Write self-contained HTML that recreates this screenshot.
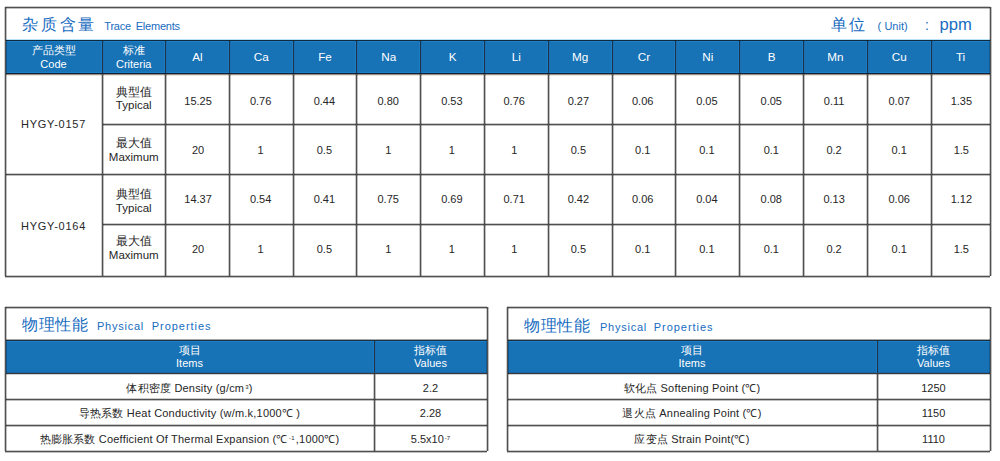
<!DOCTYPE html>
<html><head><meta charset="utf-8"><style>
html,body{margin:0;padding:0;background:#fff;}
body{width:1000px;height:461px;position:relative;overflow:hidden;font-family:"Liberation Sans",sans-serif;color:#262626;font-size:11px;}
.c{position:absolute;display:flex;align-items:center;justify-content:center;text-align:center;line-height:13.5px;white-space:nowrap;}
.t{position:absolute;white-space:nowrap;line-height:1.2;}
sup{font-size:6px;vertical-align:top;line-height:8px;position:relative;top:-2px;margin-left:1px;}
</style></head><body>
<div style="position:absolute;left:5px;top:40px;width:985px;height:33.5px;background:#1772b6"></div><div style="position:absolute;left:5px;top:39px;width:985px;height:1px;background:#b8e2fa"></div><div style="position:absolute;left:5px;top:40px;width:985px;height:1px;background:#12283b"></div><div style="position:absolute;left:5px;top:41px;width:985px;height:1px;background:#1a80cc"></div><div class="t" style="left:22px;top:15px;font-size:16px;letter-spacing:2.8px;color:#176cbf">杂质含量</div><div class="t" style="left:104.3px;top:20px;font-size:11px;letter-spacing:-0.2px;word-spacing:1.8px;color:#176cbf">Trace Elements</div><div class="t" style="left:831px;top:15px;font-size:16px;letter-spacing:2px;color:#176cbf">单位</div><div class="t" style="left:877.4px;top:19.6px;font-size:11px;color:#176cbf">(&nbsp;<span style="margin-left:0.3px">Unit)</span></div><div class="t" style="left:925px;top:16.8px;font-size:14px;color:#176cbf">:</div><div class="t" style="left:939.5px;top:14.6px;font-size:16.6px;color:#176cbf">ppm</div><div class="c" style="left:5px;top:40.9px;width:97px;height:33.5px;color:#fff">产品类型<br>Code</div><div class="c" style="left:102px;top:40.9px;width:63.5px;height:33.5px;color:#fff">标准<br>Criteria</div><div class="c" style="left:165.5px;top:39.8px;width:63.80000000000001px;height:33.5px;color:#fff;font-size:11.7px">Al</div><div class="c" style="left:229.3px;top:39.8px;width:63.80000000000001px;height:33.5px;color:#fff;font-size:11.7px">Ca</div><div class="c" style="left:293.1px;top:39.8px;width:63.799999999999955px;height:33.5px;color:#fff;font-size:11.7px">Fe</div><div class="c" style="left:356.9px;top:39.8px;width:63.80000000000001px;height:33.5px;color:#fff;font-size:11.7px">Na</div><div class="c" style="left:420.7px;top:39.8px;width:63.80000000000001px;height:33.5px;color:#fff;font-size:11.7px">K</div><div class="c" style="left:484.5px;top:39.8px;width:63.799999999999955px;height:33.5px;color:#fff;font-size:11.7px">Li</div><div class="c" style="left:548.3px;top:39.8px;width:63.799999999999955px;height:33.5px;color:#fff;font-size:11.7px">Mg</div><div class="c" style="left:612.0999999999999px;top:39.8px;width:63.80000000000007px;height:33.5px;color:#fff;font-size:11.7px">Cr</div><div class="c" style="left:675.9px;top:39.8px;width:63.799999999999955px;height:33.5px;color:#fff;font-size:11.7px">Ni</div><div class="c" style="left:739.6999999999999px;top:39.8px;width:63.80000000000007px;height:33.5px;color:#fff;font-size:11.7px">B</div><div class="c" style="left:803.5px;top:39.8px;width:63.799999999999955px;height:33.5px;color:#fff;font-size:11.7px">Mn</div><div class="c" style="left:867.3px;top:39.8px;width:63.799999999999955px;height:33.5px;color:#fff;font-size:11.7px">Cu</div><div class="c" style="left:931.0999999999999px;top:39.8px;width:58.90000000000009px;height:33.5px;color:#fff;font-size:11.7px">Ti</div><div class="c" style="left:5px;top:74.7px;width:97px;height:101.0px;letter-spacing:0.75px">HYGY-0157</div><div class="c" style="left:5px;top:175.7px;width:97px;height:101.5px;letter-spacing:0.75px">HYGY-0164</div><div class="c" style="left:102px;top:74.0px;width:63.5px;height:50.5px;font-size:11.5px;line-height:13.5px">典型值<br>Typical</div><div class="c" style="left:166.2px;top:76.5px;width:63.80000000000001px;height:50.5px;">15.25</div><div class="c" style="left:228.70000000000002px;top:76.5px;width:63.79999999999998px;height:50.5px;">0.76</div><div class="c" style="left:292.5px;top:76.5px;width:63.799999999999955px;height:50.5px;">0.44</div><div class="c" style="left:356.29999999999995px;top:76.5px;width:63.80000000000001px;height:50.5px;">0.80</div><div class="c" style="left:420.0px;top:76.5px;width:63.80000000000001px;height:50.5px;">0.53</div><div class="c" style="left:482.3px;top:76.5px;width:63.7999999999999px;height:50.5px;">0.76</div><div class="c" style="left:546.5px;top:76.5px;width:63.799999999999955px;height:50.5px;">0.27</div><div class="c" style="left:610.8px;top:76.5px;width:63.80000000000007px;height:50.5px;">0.06</div><div class="c" style="left:675.0px;top:76.5px;width:63.799999999999955px;height:50.5px;">0.05</div><div class="c" style="left:739.4px;top:76.5px;width:63.80000000000007px;height:50.5px;">0.05</div><div class="c" style="left:802.2px;top:76.5px;width:63.799999999999955px;height:50.5px;">0.11</div><div class="c" style="left:867.3px;top:76.5px;width:63.799999999999955px;height:50.5px;">0.07</div><div class="c" style="left:931.8999999999999px;top:76.5px;width:58.90000000000009px;height:50.5px;">1.35</div><div class="c" style="left:102px;top:125.6px;width:63.5px;height:50.5px;font-size:11.5px;line-height:13.5px">最大值<br>Maximum</div><div class="c" style="left:166.2px;top:125.25px;width:63.80000000000001px;height:50.5px;">20</div><div class="c" style="left:228.70000000000002px;top:125.25px;width:63.79999999999998px;height:50.5px;">1</div><div class="c" style="left:292.5px;top:125.25px;width:63.799999999999955px;height:50.5px;">0.5</div><div class="c" style="left:356.29999999999995px;top:125.25px;width:63.80000000000001px;height:50.5px;">1</div><div class="c" style="left:420.0px;top:125.25px;width:63.80000000000001px;height:50.5px;">1</div><div class="c" style="left:482.3px;top:125.25px;width:63.7999999999999px;height:50.5px;">1</div><div class="c" style="left:546.5px;top:125.25px;width:63.799999999999955px;height:50.5px;">0.5</div><div class="c" style="left:610.8px;top:125.25px;width:63.80000000000007px;height:50.5px;">0.1</div><div class="c" style="left:675.0px;top:125.25px;width:63.799999999999955px;height:50.5px;">0.1</div><div class="c" style="left:739.4px;top:125.25px;width:63.80000000000007px;height:50.5px;">0.1</div><div class="c" style="left:802.2px;top:125.25px;width:63.799999999999955px;height:50.5px;">0.2</div><div class="c" style="left:867.3px;top:125.25px;width:63.799999999999955px;height:50.5px;">0.1</div><div class="c" style="left:931.8999999999999px;top:125.25px;width:58.90000000000009px;height:50.5px;">1.5</div><div class="c" style="left:102px;top:176.7px;width:63.5px;height:50.0px;font-size:11.5px;line-height:13.5px">典型值<br>Typical</div><div class="c" style="left:166.2px;top:174.5px;width:63.80000000000001px;height:50.0px;">14.37</div><div class="c" style="left:228.70000000000002px;top:174.5px;width:63.79999999999998px;height:50.0px;">0.54</div><div class="c" style="left:292.5px;top:174.5px;width:63.799999999999955px;height:50.0px;">0.41</div><div class="c" style="left:356.29999999999995px;top:174.5px;width:63.80000000000001px;height:50.0px;">0.75</div><div class="c" style="left:420.0px;top:174.5px;width:63.80000000000001px;height:50.0px;">0.69</div><div class="c" style="left:482.3px;top:174.5px;width:63.7999999999999px;height:50.0px;">0.71</div><div class="c" style="left:546.5px;top:174.5px;width:63.799999999999955px;height:50.0px;">0.42</div><div class="c" style="left:610.8px;top:174.5px;width:63.80000000000007px;height:50.0px;">0.06</div><div class="c" style="left:675.0px;top:174.5px;width:63.799999999999955px;height:50.0px;">0.04</div><div class="c" style="left:739.4px;top:174.5px;width:63.80000000000007px;height:50.0px;">0.08</div><div class="c" style="left:802.2px;top:174.5px;width:63.799999999999955px;height:50.0px;">0.13</div><div class="c" style="left:867.3px;top:174.5px;width:63.799999999999955px;height:50.0px;">0.06</div><div class="c" style="left:931.8999999999999px;top:174.5px;width:58.90000000000009px;height:50.0px;">1.12</div><div class="c" style="left:102px;top:223.1px;width:63.5px;height:51.5px;font-size:11.5px;line-height:13.5px">最大值<br>Maximum</div><div class="c" style="left:166.2px;top:223.5px;width:63.80000000000001px;height:51.5px;">20</div><div class="c" style="left:228.70000000000002px;top:223.5px;width:63.79999999999998px;height:51.5px;">1</div><div class="c" style="left:292.5px;top:223.5px;width:63.799999999999955px;height:51.5px;">0.5</div><div class="c" style="left:356.29999999999995px;top:223.5px;width:63.80000000000001px;height:51.5px;">1</div><div class="c" style="left:420.0px;top:223.5px;width:63.80000000000001px;height:51.5px;">1</div><div class="c" style="left:482.3px;top:223.5px;width:63.7999999999999px;height:51.5px;">1</div><div class="c" style="left:546.5px;top:223.5px;width:63.799999999999955px;height:51.5px;">0.5</div><div class="c" style="left:610.8px;top:223.5px;width:63.80000000000007px;height:51.5px;">0.1</div><div class="c" style="left:675.0px;top:223.5px;width:63.799999999999955px;height:51.5px;">0.1</div><div class="c" style="left:739.4px;top:223.5px;width:63.80000000000007px;height:51.5px;">0.1</div><div class="c" style="left:802.2px;top:223.5px;width:63.799999999999955px;height:51.5px;">0.2</div><div class="c" style="left:867.3px;top:223.5px;width:63.799999999999955px;height:51.5px;">0.1</div><div class="c" style="left:931.8999999999999px;top:223.5px;width:58.90000000000009px;height:51.5px;">1.5</div><div style="position:absolute;left:5px;top:7px;width:985px;height:1px;background:#505050;box-shadow:0 -1px 0 rgba(0,0,0,.2),0 1px 0 rgba(0,0,0,.25)"></div><div style="position:absolute;left:5px;top:72px;width:985px;height:1px;background:#1a7fca"></div><div style="position:absolute;left:5px;top:73px;width:985px;height:1px;background:#0e2233"></div><div style="position:absolute;left:5px;top:74px;width:985px;height:1px;background:#9a8e84"></div><div style="position:absolute;left:5px;top:75px;width:985px;height:1px;background:#ece4de"></div><div style="position:absolute;left:102px;top:124px;width:888px;height:1px;background:#505050;box-shadow:0 -1px 0 rgba(0,0,0,.2),0 1px 0 rgba(0,0,0,.25)"></div><div style="position:absolute;left:5px;top:174px;width:985px;height:1px;background:#505050;box-shadow:0 -1px 0 rgba(0,0,0,.2),0 1px 0 rgba(0,0,0,.25)"></div><div style="position:absolute;left:102px;top:224px;width:888px;height:1px;background:#505050;box-shadow:0 -1px 0 rgba(0,0,0,.2),0 1px 0 rgba(0,0,0,.25)"></div><div style="position:absolute;left:5px;top:276px;width:985px;height:1px;background:#505050;box-shadow:0 -1px 0 rgba(0,0,0,.2),0 1px 0 rgba(0,0,0,.25)"></div><div style="position:absolute;left:5px;top:7px;width:1px;height:269px;background:#505050;box-shadow:-1px 0 0 rgba(0,0,0,.2),1px 0 0 rgba(0,0,0,.25)"></div><div style="position:absolute;left:990px;top:7px;width:1px;height:269px;background:#505050;box-shadow:-1px 0 0 rgba(0,0,0,.2),1px 0 0 rgba(0,0,0,.25)"></div><div style="position:absolute;left:102px;top:41px;width:1px;height:32px;background:#1f3346;box-shadow:-1px 0 0 #1b7cc6,1px 0 0 #1a6db0"></div><div style="position:absolute;left:102px;top:73.5px;width:1px;height:202.5px;background:#505050;box-shadow:-1px 0 0 rgba(0,0,0,.2),1px 0 0 rgba(0,0,0,.25)"></div><div style="position:absolute;left:165px;top:41px;width:1px;height:32px;background:#1f3346;box-shadow:-1px 0 0 #1b7cc6,1px 0 0 #1a6db0"></div><div style="position:absolute;left:165px;top:73.5px;width:1px;height:202.5px;background:#505050;box-shadow:-1px 0 0 rgba(0,0,0,.2),1px 0 0 rgba(0,0,0,.25)"></div><div style="position:absolute;left:229px;top:41px;width:1px;height:32px;background:#1f3346;box-shadow:-1px 0 0 #1b7cc6,1px 0 0 #1a6db0"></div><div style="position:absolute;left:229px;top:73.5px;width:1px;height:202.5px;background:#505050;box-shadow:-1px 0 0 rgba(0,0,0,.2),1px 0 0 rgba(0,0,0,.25)"></div><div style="position:absolute;left:293px;top:41px;width:1px;height:32px;background:#1f3346;box-shadow:-1px 0 0 #1b7cc6,1px 0 0 #1a6db0"></div><div style="position:absolute;left:293px;top:73.5px;width:1px;height:202.5px;background:#505050;box-shadow:-1px 0 0 rgba(0,0,0,.2),1px 0 0 rgba(0,0,0,.25)"></div><div style="position:absolute;left:356px;top:41px;width:1px;height:32px;background:#1f3346;box-shadow:-1px 0 0 #1b7cc6,1px 0 0 #1a6db0"></div><div style="position:absolute;left:356px;top:73.5px;width:1px;height:202.5px;background:#505050;box-shadow:-1px 0 0 rgba(0,0,0,.2),1px 0 0 rgba(0,0,0,.25)"></div><div style="position:absolute;left:420px;top:41px;width:1px;height:32px;background:#1f3346;box-shadow:-1px 0 0 #1b7cc6,1px 0 0 #1a6db0"></div><div style="position:absolute;left:420px;top:73.5px;width:1px;height:202.5px;background:#505050;box-shadow:-1px 0 0 rgba(0,0,0,.2),1px 0 0 rgba(0,0,0,.25)"></div><div style="position:absolute;left:484px;top:41px;width:1px;height:32px;background:#1f3346;box-shadow:-1px 0 0 #1b7cc6,1px 0 0 #1a6db0"></div><div style="position:absolute;left:484px;top:73.5px;width:1px;height:202.5px;background:#505050;box-shadow:-1px 0 0 rgba(0,0,0,.2),1px 0 0 rgba(0,0,0,.25)"></div><div style="position:absolute;left:548px;top:41px;width:1px;height:32px;background:#1f3346;box-shadow:-1px 0 0 #1b7cc6,1px 0 0 #1a6db0"></div><div style="position:absolute;left:548px;top:73.5px;width:1px;height:202.5px;background:#505050;box-shadow:-1px 0 0 rgba(0,0,0,.2),1px 0 0 rgba(0,0,0,.25)"></div><div style="position:absolute;left:612px;top:41px;width:1px;height:32px;background:#1f3346;box-shadow:-1px 0 0 #1b7cc6,1px 0 0 #1a6db0"></div><div style="position:absolute;left:612px;top:73.5px;width:1px;height:202.5px;background:#505050;box-shadow:-1px 0 0 rgba(0,0,0,.2),1px 0 0 rgba(0,0,0,.25)"></div><div style="position:absolute;left:675px;top:41px;width:1px;height:32px;background:#1f3346;box-shadow:-1px 0 0 #1b7cc6,1px 0 0 #1a6db0"></div><div style="position:absolute;left:675px;top:73.5px;width:1px;height:202.5px;background:#505050;box-shadow:-1px 0 0 rgba(0,0,0,.2),1px 0 0 rgba(0,0,0,.25)"></div><div style="position:absolute;left:739px;top:41px;width:1px;height:32px;background:#1f3346;box-shadow:-1px 0 0 #1b7cc6,1px 0 0 #1a6db0"></div><div style="position:absolute;left:739px;top:73.5px;width:1px;height:202.5px;background:#505050;box-shadow:-1px 0 0 rgba(0,0,0,.2),1px 0 0 rgba(0,0,0,.25)"></div><div style="position:absolute;left:803px;top:41px;width:1px;height:32px;background:#1f3346;box-shadow:-1px 0 0 #1b7cc6,1px 0 0 #1a6db0"></div><div style="position:absolute;left:803px;top:73.5px;width:1px;height:202.5px;background:#505050;box-shadow:-1px 0 0 rgba(0,0,0,.2),1px 0 0 rgba(0,0,0,.25)"></div><div style="position:absolute;left:867px;top:41px;width:1px;height:32px;background:#1f3346;box-shadow:-1px 0 0 #1b7cc6,1px 0 0 #1a6db0"></div><div style="position:absolute;left:867px;top:73.5px;width:1px;height:202.5px;background:#505050;box-shadow:-1px 0 0 rgba(0,0,0,.2),1px 0 0 rgba(0,0,0,.25)"></div><div style="position:absolute;left:931px;top:41px;width:1px;height:32px;background:#1f3346;box-shadow:-1px 0 0 #1b7cc6,1px 0 0 #1a6db0"></div><div style="position:absolute;left:931px;top:73.5px;width:1px;height:202.5px;background:#505050;box-shadow:-1px 0 0 rgba(0,0,0,.2),1px 0 0 rgba(0,0,0,.25)"></div><div style="position:absolute;left:5px;top:340.5px;width:482px;height:33.0px;background:#1772b6"></div><div style="position:absolute;left:5px;top:339px;width:482px;height:1px;background:#a8a8a8"></div><div style="position:absolute;left:5px;top:340px;width:482px;height:1px;background:#1c2f40"></div><div style="position:absolute;left:5px;top:341px;width:482px;height:1px;background:#1a80cc"></div><div style="position:absolute;left:5px;top:372px;width:482px;height:1px;background:#1565a8"></div><div style="position:absolute;left:5px;top:373px;width:482px;height:1px;background:#3a3a3a"></div><div style="position:absolute;left:5px;top:374px;width:482px;height:1px;background:#d0d0d0"></div><div class="t" style="left:22px;top:315px;font-size:16px;letter-spacing:0.6px;color:#176cbf">物理性能</div><div class="t" style="left:97px;top:320.2px;font-size:11px;letter-spacing:0.75px;color:#176cbf">Physical</div><div class="t" style="left:151.8px;top:320.2px;font-size:11px;letter-spacing:0.95px;color:#176cbf">Properties</div><div class="c" style="left:5px;top:340.5px;width:369px;height:33.0px;color:#fff">项目<br>Items</div><div class="c" style="left:374px;top:340.5px;width:113px;height:33.0px;color:#fff">指标值<br>Values</div><div class="c" style="left:5px;top:375.9px;width:369px;height:25.5px;letter-spacing:0.2px">体积密度 Density (g/cm<sup>3</sup>)</div><div class="c" style="left:374px;top:376.1px;width:113px;height:25.5px;">2.2</div><div class="c" style="left:5px;top:401.0px;width:369px;height:26px;letter-spacing:0.2px">导热系数 Heat Conductivity (w/m.k,1000℃ )</div><div class="c" style="left:374px;top:401.2px;width:113px;height:26px;">2.28</div><div class="c" style="left:5px;top:426.5px;width:369px;height:26px;letter-spacing:0.2px">热膨胀系数 Coefficient Of Thermal Expansion (℃<sup style="margin:0 1px 0 1.5px">-1</sup>,1000℃)</div><div class="c" style="left:374px;top:426.6px;width:113px;height:26px;">5.5x10<sup>-7</sup></div><div style="position:absolute;left:5px;top:307px;width:482px;height:1px;background:#505050;box-shadow:0 -1px 0 rgba(0,0,0,.2),0 1px 0 rgba(0,0,0,.25)"></div><div style="position:absolute;left:5px;top:399px;width:482px;height:1px;background:#505050;box-shadow:0 -1px 0 rgba(0,0,0,.2),0 1px 0 rgba(0,0,0,.25)"></div><div style="position:absolute;left:5px;top:425px;width:482px;height:1px;background:#505050;box-shadow:0 -1px 0 rgba(0,0,0,.2),0 1px 0 rgba(0,0,0,.25)"></div><div style="position:absolute;left:5px;top:451px;width:482px;height:1px;background:#505050;box-shadow:0 -1px 0 rgba(0,0,0,.2),0 1px 0 rgba(0,0,0,.25)"></div><div style="position:absolute;left:5px;top:307px;width:1px;height:144px;background:#505050;box-shadow:-1px 0 0 rgba(0,0,0,.2),1px 0 0 rgba(0,0,0,.25)"></div><div style="position:absolute;left:487px;top:307px;width:1px;height:144px;background:#505050;box-shadow:-1px 0 0 rgba(0,0,0,.2),1px 0 0 rgba(0,0,0,.25)"></div><div style="position:absolute;left:374px;top:341px;width:1px;height:32px;background:#1f3346;box-shadow:-1px 0 0 #1b7cc6,1px 0 0 #1a6db0"></div><div style="position:absolute;left:374px;top:373.5px;width:1px;height:77.5px;background:#505050;box-shadow:-1px 0 0 rgba(0,0,0,.2),1px 0 0 rgba(0,0,0,.25)"></div><div style="position:absolute;left:507px;top:340.5px;width:483px;height:33.0px;background:#1772b6"></div><div style="position:absolute;left:507px;top:339px;width:483px;height:1px;background:#a8a8a8"></div><div style="position:absolute;left:507px;top:340px;width:483px;height:1px;background:#1c2f40"></div><div style="position:absolute;left:507px;top:341px;width:483px;height:1px;background:#1a80cc"></div><div style="position:absolute;left:507px;top:372px;width:483px;height:1px;background:#1565a8"></div><div style="position:absolute;left:507px;top:373px;width:483px;height:1px;background:#3a3a3a"></div><div style="position:absolute;left:507px;top:374px;width:483px;height:1px;background:#d0d0d0"></div><div class="t" style="left:524px;top:316px;font-size:16px;letter-spacing:0.6px;color:#176cbf">物理性能</div><div class="t" style="left:600px;top:321.2px;font-size:11px;letter-spacing:0.75px;color:#176cbf">Physical</div><div class="t" style="left:653.8px;top:321.2px;font-size:11px;letter-spacing:0.95px;color:#176cbf">Properties</div><div class="c" style="left:507px;top:340.5px;width:370px;height:33.0px;color:#fff">项目<br>Items</div><div class="c" style="left:877px;top:340.5px;width:113px;height:33.0px;color:#fff">指标值<br>Values</div><div class="c" style="left:507px;top:375.9px;width:370px;height:25.5px;letter-spacing:0.2px">软化点 Softening Point (℃)</div><div class="c" style="left:877px;top:376.1px;width:113px;height:25.5px;">1250</div><div class="c" style="left:507px;top:401.0px;width:370px;height:26px;letter-spacing:0.2px">退火点 Annealing Point (℃)</div><div class="c" style="left:877px;top:401.2px;width:113px;height:26px;">1150</div><div class="c" style="left:507px;top:426.5px;width:370px;height:26px;letter-spacing:0.2px">应变点 Strain Point(℃)</div><div class="c" style="left:877px;top:426.6px;width:113px;height:26px;">1110</div><div style="position:absolute;left:507px;top:307px;width:483px;height:1px;background:#505050;box-shadow:0 -1px 0 rgba(0,0,0,.2),0 1px 0 rgba(0,0,0,.25)"></div><div style="position:absolute;left:507px;top:399px;width:483px;height:1px;background:#505050;box-shadow:0 -1px 0 rgba(0,0,0,.2),0 1px 0 rgba(0,0,0,.25)"></div><div style="position:absolute;left:507px;top:425px;width:483px;height:1px;background:#505050;box-shadow:0 -1px 0 rgba(0,0,0,.2),0 1px 0 rgba(0,0,0,.25)"></div><div style="position:absolute;left:507px;top:451px;width:483px;height:1px;background:#505050;box-shadow:0 -1px 0 rgba(0,0,0,.2),0 1px 0 rgba(0,0,0,.25)"></div><div style="position:absolute;left:507px;top:307px;width:1px;height:144px;background:#505050;box-shadow:-1px 0 0 rgba(0,0,0,.2),1px 0 0 rgba(0,0,0,.25)"></div><div style="position:absolute;left:990px;top:307px;width:1px;height:144px;background:#505050;box-shadow:-1px 0 0 rgba(0,0,0,.2),1px 0 0 rgba(0,0,0,.25)"></div><div style="position:absolute;left:877px;top:341px;width:1px;height:32px;background:#1f3346;box-shadow:-1px 0 0 #1b7cc6,1px 0 0 #1a6db0"></div><div style="position:absolute;left:877px;top:373.5px;width:1px;height:77.5px;background:#505050;box-shadow:-1px 0 0 rgba(0,0,0,.2),1px 0 0 rgba(0,0,0,.25)"></div>
</body></html>
